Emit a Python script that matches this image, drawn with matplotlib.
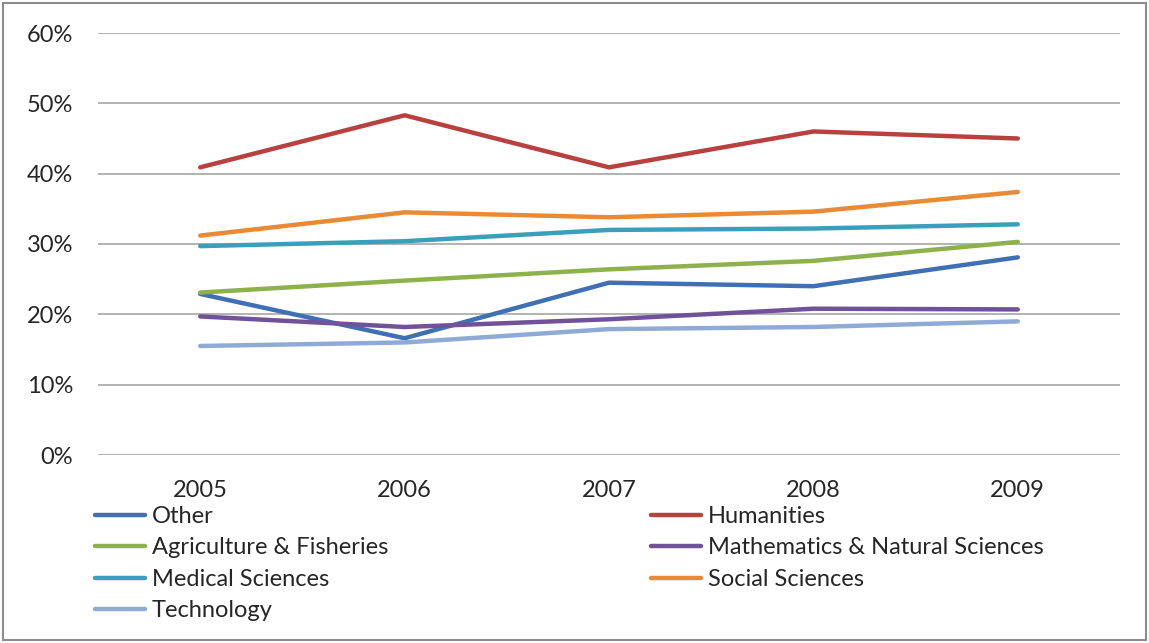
import matplotlib.pyplot as plt
from matplotlib.patches import Rectangle
from matplotlib.ticker import PercentFormatter

plt.rcParams['font.family'] = ['Lato', 'DejaVu Sans']

years = ['2005', '2006', '2007', '2008', '2009']

other = [22.9, 16.6, 24.5, 24.0, 28.1]
humanities = [40.9, 48.3, 40.9, 46.0, 45.0]
agriculture = [23.1, 24.8, 26.4, 27.6, 30.3]
mathematics = [19.7, 18.2, 19.3, 20.8, 20.7]
medical = [29.7, 30.4, 32.0, 32.2, 32.8]
social = [31.2, 34.5, 33.8, 34.6, 37.4]
technology = [15.5, 16.0, 17.9, 18.2, 19.0]

series = [
    ('Other', other, '#3f70b3'),
    ('Humanities', humanities, '#b8413e'),
    ('Agriculture & Fisheries', agriculture, '#8db24c'),
    ('Mathematics & Natural Sciences', mathematics, '#70519a'),
    ('Medical Sciences', medical, '#3a9fba'),
    ('Social Sciences', social, '#ea8a35'),
    ('Technology', technology, '#8faad6'),
]

text_color = '#262626'
fs = 17

fig = plt.figure(figsize=(11.49, 6.43), dpi=100)
ax = fig.add_axes([98 / 1149, 1 - 455 / 643, 1022 / 1149, 422 / 643])

x = range(len(years))
lines = {}
for name, vals, color in series:
    lines[name], = ax.plot(x, vals, color=color, lw=3.2, solid_capstyle='round',
                           solid_joinstyle='round', label=name, zorder=3)

ax.set_xlim(-0.5, len(years) - 0.5)
ax.set_ylim(0, 60)
ax.set_yticks(range(0, 61, 10))
ax.yaxis.set_major_formatter(PercentFormatter(decimals=0))
ax.set_xticks(list(x))
ax.set_xticklabels(years)
ax.tick_params(axis='both', length=0, labelsize=fs, colors=text_color)
ax.tick_params(axis='y', pad=18)
ax.tick_params(axis='x', pad=18)
ax.grid(axis='y', color='#a6a6a6', lw=1.2, zorder=0)
for s in ax.spines.values():
    s.set_visible(False)

# Excel-style legend: two columns below the plot
left_names = ['Other', 'Agriculture & Fisheries', 'Medical Sciences', 'Technology']
right_names = ['Humanities', 'Mathematics & Natural Sciences', 'Social Sciences']
leg_kw = dict(loc='upper left', frameon=False, fontsize=fs, handlelength=2.1,
              handletextpad=0.3, labelspacing=0.44, borderaxespad=0, borderpad=0,
              labelcolor=text_color)
fig.legend([lines[n] for n in left_names], left_names,
           bbox_to_anchor=(95 / 1149, 1 - 506 / 643), **leg_kw)
fig.legend([lines[n] for n in right_names], right_names,
           bbox_to_anchor=(651 / 1149, 1 - 506 / 643), **leg_kw)

# chart border
fig.patches.append(Rectangle((3 / 1149, 3 / 643), 1143 / 1149, 637 / 643,
                             transform=fig.transFigure, fill=False,
                             ec='#8c8c8c', lw=1.5))

fig.savefig('out.png', dpi=100)
